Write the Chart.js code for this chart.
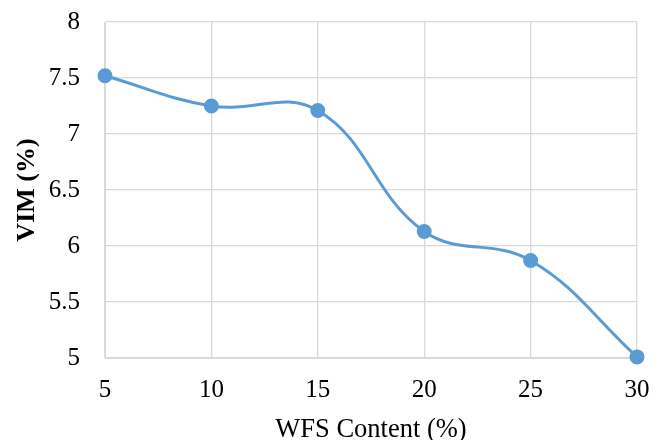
<!DOCTYPE html>
<html><head><meta charset="utf-8">
<script src="https://cdn.jsdelivr.net/npm/chart.js"></script>
<style>html,body{margin:0;padding:0;background:#fff}#w{width:666px;height:440px}</style>
</head><body><div id="w"><canvas id="c"></canvas></div>
<script>
const xValues = [5, 10, 15, 20, 25, 30];
const vimValues = [7.52, 7.25, 7.21, 6.13, 5.87, 5.01];
const xTitle = 'WFS Content (%)';
const yTitle = 'VIM (%)';
const font = '"Liberation Serif", "Times New Roman", serif';
new Chart(document.getElementById('c'), {
  type: 'line',
  data: { datasets: [{
    data: xValues.map((x, i) => ({x: x, y: vimValues[i]})),
    borderColor: '#5b9bd5', backgroundColor: '#5b9bd5',
    borderWidth: 3, pointRadius: 6, pointHoverRadius: 6, tension: 0.4, fill: false, clip: false
  }]},
  options: {
    responsive: true, maintainAspectRatio: false, animation: false,
    layout: { padding: { left: 0, right: 29, top: 22, bottom: 0 } },
    plugins: { legend: { display: false }, tooltip: { enabled: false } },
    scales: {
      x: { type: 'linear', min: 5, max: 30,
        ticks: { stepSize: 5, color: '#000', font: { family: font, size: 25 }, padding: 17 },
        grid: { color: '#d9d9d9', lineWidth: 1.3, drawTicks: false },
        border: { color: '#d9d9d9' },
        title: { display: true, text: xTitle, color: '#000', font: { family: font, size: 26.5, lineHeight: 1 }, padding: { top: 0, bottom: -3 } },
        afterFit: (s) => { s.height = 82; s.paddingLeft = 0; s.paddingRight = 0; }
      },
      y: { min: 5, max: 8,
        ticks: { stepSize: 0.5, color: '#000', font: { family: font, size: 25 }, padding: 25,
          callback: (v) => String(v) },
        grid: { color: '#d9d9d9', lineWidth: 1.3, drawTicks: false },
        border: { color: '#d9d9d9' },
        title: { display: true, text: yTitle, color: '#000', font: { family: font, size: 26, weight: 'bold', lineHeight: 1 }, padding: { top: 14, bottom: 0 } },
        afterFit: (s) => { s.width = 105; s.paddingTop = 0; s.paddingBottom = 0; }
      }
    }
  }
});
</script></body></html>
